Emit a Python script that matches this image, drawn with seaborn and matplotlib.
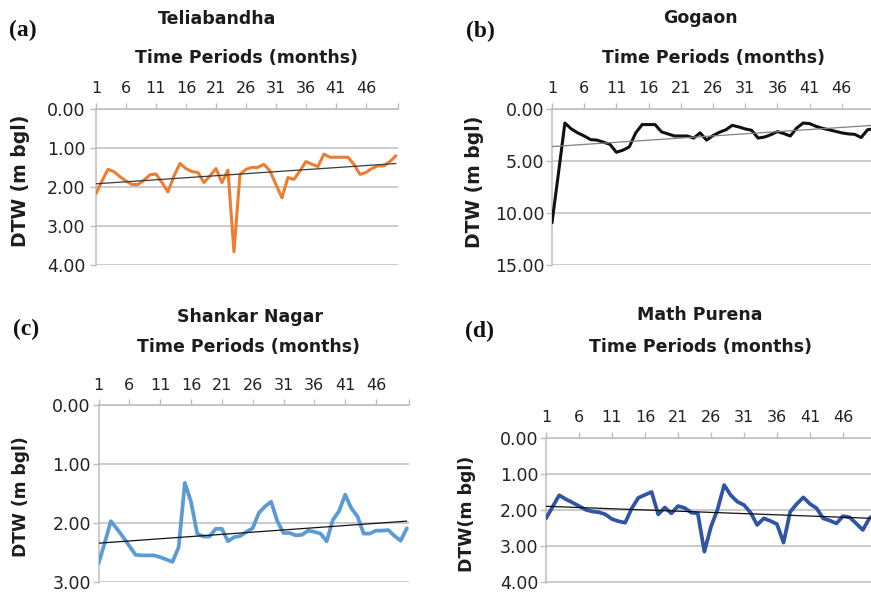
import numpy as np
import pandas as pd
import matplotlib
matplotlib.use("Agg")
import matplotlib.pyplot as plt
import seaborn as sns

# ---------------- data ----------------
months = list(range(1, 52))
x_tick_values = [1, 6, 11, 16, 21, 26, 31, 36, 41, 46]
x_tick_labels = ["1", "6", "11", "16", "21", "26", "31", "36", "41", "46"]

teliabandha = [2.17, 1.85, 1.55, 1.61, 1.74, 1.85, 1.94, 1.94, 1.83, 1.69,
               1.67, 1.89, 2.13, 1.72, 1.40, 1.53, 1.61, 1.63, 1.89, 1.72,
               1.53, 1.89, 1.57, 3.67, 1.68, 1.55, 1.50, 1.50, 1.42, 1.59,
               1.94, 2.28, 1.76, 1.81, 1.59, 1.35, 1.42, 1.48, 1.16, 1.24,
               1.24, 1.24, 1.24, 1.42, 1.68, 1.63, 1.53, 1.46, 1.46, 1.35,
               1.20]
gogaon = [10.96, 6.20, 1.35, 1.92, 2.30, 2.60, 2.95, 3.00, 3.20, 3.40,
          4.17, 3.97, 3.65, 2.30, 1.50, 1.50, 1.50, 2.20, 2.40, 2.60,
          2.60, 2.60, 2.80, 2.30, 3.00, 2.56, 2.24, 2.00, 1.57, 1.73,
          1.92, 2.05, 2.80, 2.70, 2.47, 2.18, 2.37, 2.60, 1.83, 1.35,
          1.41, 1.67, 1.86, 2.00, 2.15, 2.30, 2.40, 2.44, 2.75, 2.00,
          1.90]
shankar_nagar = [2.69, 2.34, 1.97, 2.10, 2.24, 2.39, 2.54, 2.55, 2.55, 2.55,
                 2.58, 2.62, 2.66, 2.41, 1.32, 1.64, 2.18, 2.23, 2.23, 2.10,
                 2.10, 2.31, 2.24, 2.22, 2.15, 2.09, 1.83, 1.72, 1.64, 1.97,
                 2.17, 2.17, 2.21, 2.20, 2.13, 2.15, 2.18, 2.31, 1.95, 1.80,
                 1.52, 1.75, 1.89, 2.18, 2.18, 2.13, 2.13, 2.12, 2.22, 2.30,
                 2.09]
math_purena = [2.23, 1.91, 1.59, 1.70, 1.79, 1.89, 1.99, 2.04, 2.06, 2.12,
               2.25, 2.31, 2.35, 1.95, 1.66, 1.58, 1.50, 2.12, 1.93, 2.09,
               1.89, 1.94, 2.07, 2.09, 3.15, 2.46, 1.98, 1.31, 1.59, 1.77,
               1.86, 2.07, 2.41, 2.23, 2.30, 2.39, 2.90, 2.05, 1.83, 1.65,
               1.83, 1.95, 2.23, 2.29, 2.37, 2.17, 2.20, 2.37, 2.55, 2.23,
               2.10]

panels = [
    dict(letter="(a)", name="Teliabandha", values=teliabandha, color="#ED7D31",
         lw=2.2, trend="#3a3a3a", yticks=[0, 1, 2, 3, 4], ylabel="DTW (m bgl)",
         box=(96, 398.3, 109, 265), letter_xy=(23, 30), name_xy=(217, 19),
         tp_xy=(246, 58), ylab_xy=(20, 181), ylab_size=13.5, ypad=3.5),
    dict(letter="(b)", name="Gogaon", values=gogaon, color="#111111",
         lw=2.2, trend="#808080", yticks=[0, 5, 10, 15], ylabel="DTW (m bgl)",
         box=(552, 876.6, 109, 265), letter_xy=(480, 31), name_xy=(700, 18),
         tp_xy=(713, 58), ylab_xy=(474.5, 182), ylab_size=13.5, ypad=1.5),
    dict(letter="(c)", name="Shankar Nagar", values=shankar_nagar, color="#5B9BD5",
         lw=2.7, trend="#111111", yticks=[0, 1, 2, 3], ylabel="DTW (m bgl)",
         box=(98.5, 409.3, 405, 582.3), letter_xy=(26, 329), name_xy=(250, 317),
         tp_xy=(248, 347), ylab_xy=(21.5, 497), ylab_size=12.3, ypad=1.5),
    dict(letter="(d)", name="Math Purena", values=math_purena, color="#2F55A4",
         lw=2.7, trend="#111111", yticks=[0, 1, 2, 3, 4], ylabel="DTW(m bgl)",
         box=(546, 878.6, 437.7, 582.7), letter_xy=(480, 331), name_xy=(700, 315),
         tp_xy=(700, 347), ylab_xy=(466.5, 514), ylab_size=12.5, ypad=1.5),
]

# ---------------- figure ----------------
sns.set_theme(style="white")
plt.rcParams["font.family"] = ["DejaVu Sans"]
W, H = 871, 593
fig = plt.figure(figsize=(W / 100, H / 100), dpi=100)
fig.patch.set_facecolor("white")

grid_c = "#bdbdbd"
text_c = "#1c1c1c"
tick_c = "#222222"


def fxy(x, y):
    return x / W, 1 - y / H


for p in panels:
    l, r, t, b = p["box"]
    ax = fig.add_axes([l / W, 1 - b / H, (r - l) / W, (b - t) / H])
    ax.set_facecolor("white")
    df = pd.DataFrame({"month": months, "dtw": p["values"]})
    sns.lineplot(data=df, x="month", y="dtw", ax=ax, color=p["color"],
                 linewidth=p["lw"], zorder=3)
    sns.regplot(data=df, x="month", y="dtw", ax=ax, scatter=False, ci=None,
                line_kws=dict(color=p["trend"], linewidth=0.9, zorder=4))
    ymax = p["yticks"][-1]
    ax.set_xlim(1, 51.4)
    ax.set_ylim(ymax + ymax * 0.002, 0)
    ax.xaxis.tick_top()
    ax.set_xticks(x_tick_values + [51.4])
    ax.set_xticklabels(x_tick_labels + [""])
    ax.set_yticks(p["yticks"])
    ax.set_yticklabels([f"{v:.2f}" for v in p["yticks"]])
    ax.grid(axis="y", color=grid_c, linewidth=1.1, zorder=0)
    ax.grid(axis="x", visible=False)
    for s in ["bottom", "right"]:
        ax.spines[s].set_visible(False)
    for s in ["top", "left"]:
        ax.spines[s].set_visible(True)
        ax.spines[s].set_color(grid_c)
        ax.spines[s].set_linewidth(1.1)
    ax.tick_params(axis="x", which="major", direction="out", length=4.5, width=1,
                   color=grid_c, pad=4.5, labelsize=11.5, labelcolor=tick_c,
                   top=True, bottom=False, labeltop=True, labelbottom=False)
    ax.tick_params(axis="y", direction="out", length=4, width=1, color=grid_c,
                   pad=p["ypad"], labelsize=12.5, labelcolor=tick_c, left=True)
    ax.set_xlabel("")
    ax.set_ylabel("")

    fig.text(*fxy(*p["letter_xy"]), p["letter"], ha="center", va="center",
             fontsize=17, fontweight="bold", family=["Liberation Serif"], color="#111111")
    fig.text(*fxy(*p["name_xy"]), p["name"], ha="center", va="center",
             fontsize=12.5, fontweight="bold", color=text_c)
    fig.text(*fxy(*p["tp_xy"]), "Time Periods (months)", ha="center", va="center",
             fontsize=12.5, fontweight="bold", color=text_c)
    fig.text(*fxy(*p["ylab_xy"]), p["ylabel"], ha="center", va="center",
             rotation=90, fontsize=p["ylab_size"], fontweight="bold", color=text_c)

fig.savefig("out.png", dpi=100, facecolor="white")
